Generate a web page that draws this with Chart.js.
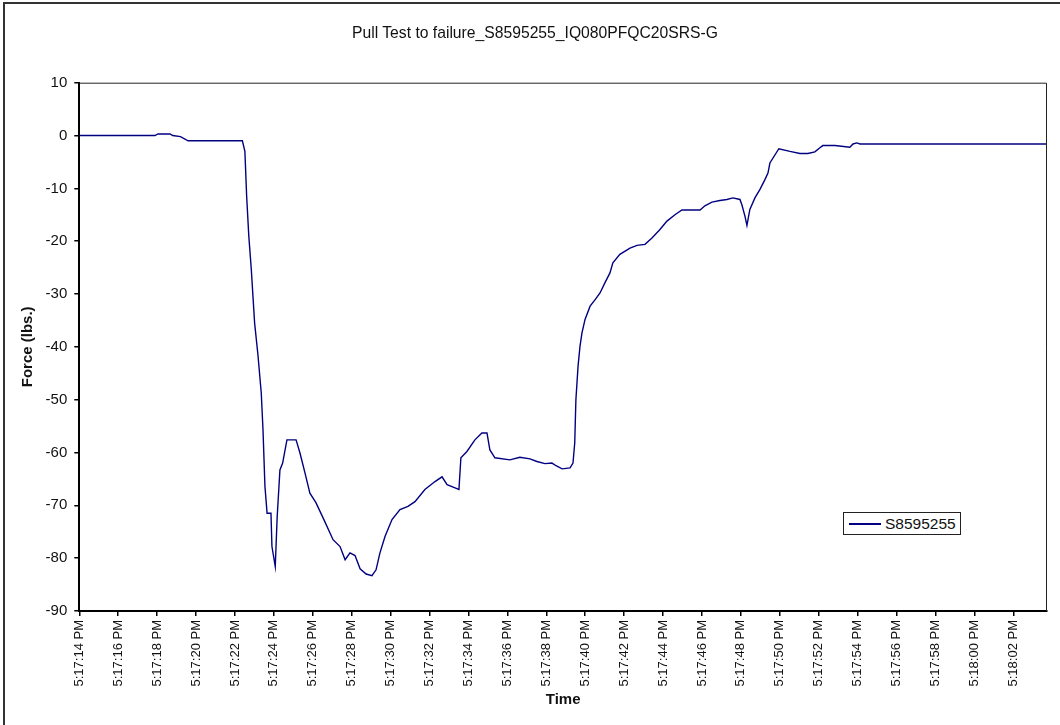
<!DOCTYPE html>
<html>
<head>
<meta charset="utf-8">
<script src="https://cdn.jsdelivr.net/npm/chart.js@4/dist/chart.umd.min.js"></script>
<style>
  html, body { margin: 0; padding: 0; background: #fff; overflow: hidden; }
  #wrap { position: relative; width: 1060px; height: 725px; }
  #frame { position: absolute; left: 3px; top: 2px; width: 2000px; height: 2000px;
    border-left: 2px solid #333; border-top: 2px solid #333; pointer-events: none; }
  #titulo { position: absolute; left: 235px; width: 600px; top: 24px; text-align: center;
    font: 15.7px "Liberation Sans", Arial, sans-serif; color: #111; line-height: 18px; }
  #legend { position: absolute; left: 843px; top: 512px; width: 116px; height: 21px;
    border: 1.5px solid #222; background: #fff; font: 15.5px "Liberation Sans", Arial, sans-serif;
    color: #111; display: flex; align-items: center; }
  #legend .swatch { display: inline-block; width: 32px; height: 0; border-top: 2px solid #000080;
    margin: 0 4px 0 5px; }
</style>
</head>
<body>
<div id="wrap">
  <canvas id="grafica" width="1060" height="725"></canvas>
  <div id="frame"></div>
  <div id="titulo"></div>
  <div id="legend"></div>
</div>
<script>
// seconds after 5:17:14 PM
const segundos = [0, 3.89, 4.04, 4.66, 4.80, 5.20, 5.59, 8.38, 8.51, 8.60,
  8.71, 8.84, 9.01, 9.18, 9.35, 9.44, 9.54, 9.65, 9.85, 9.90,
  10.07, 10.17, 10.31, 10.45, 10.67, 11.14, 11.34, 11.60, 11.85, 12.16,
  12.57, 13.04, 13.40, 13.66, 13.91, 14.17, 14.43, 14.74, 15.04, 15.25,
  15.45, 15.71, 16.07, 16.48, 16.89, 17.25, 17.76, 18.28, 18.64, 18.90,
  19.31, 19.51, 19.61, 19.92, 20.33, 20.69, 20.95, 21.10, 21.36, 22.13,
  22.64, 23.16, 23.52, 23.93, 24.29, 24.50, 24.81, 25.22, 25.37, 25.46,
  25.52, 25.63, 25.73, 25.83, 25.99, 26.25, 26.50, 26.76, 27.01, 27.27,
  27.42, 27.78, 28.30, 28.66, 29.07, 29.43, 29.84, 30.20, 30.61, 30.97,
  31.90, 32.15, 32.51, 32.92, 33.28, 33.59, 33.95, 34.05, 34.21, 34.31,
  34.46, 34.72, 34.98, 35.24, 35.39, 35.49, 35.95, 36.52, 37.03, 37.44,
  37.80, 38.06, 38.21, 38.83, 39.60, 39.76, 39.96, 40.12, 49.73];

// force (lbs.)
const fuerza = [0, 0, 0.3, 0.3, 0, -0.2, -1.0, -1.0, -3.0, -11.5,
  -19.0, -25.4, -35.5, -41.5, -48.7, -55.7, -66.4, -71.5, -71.5, -77.8,
  -81.6, -72.1, -63.3, -62.0, -57.6, -57.6, -60.1, -63.9, -67.7, -69.5,
  -72.7, -76.5, -77.8, -80.3, -79.0, -79.5, -82.0, -83.0, -83.3, -82.2,
  -79.0, -75.9, -72.7, -70.8, -70.2, -69.3, -67.0, -65.5, -64.6, -66.1,
  -66.7, -67.0, -61.0, -59.8, -57.6, -56.3, -56.3, -59.5, -61.0, -61.4,
  -60.9, -61.2, -61.7, -62.1, -62.0, -62.5, -63.1, -62.9, -62.0, -58.2,
  -50.0, -43.7, -39.9, -37.4, -34.8, -32.3, -31.1, -29.8, -27.9, -26.0,
  -24.1, -22.5, -21.3, -20.8, -20.6, -19.4, -17.8, -16.2, -15.0, -14.1,
  -14.1, -13.3, -12.6, -12.3, -12.1, -11.8, -12.1, -13.1, -15.3, -17.0,
  -14.0, -11.8, -10.2, -8.3, -7.1, -5.2, -2.5, -3.0, -3.4, -3.4,
  -3.1, -2.3, -1.9, -1.9, -2.2, -1.6, -1.4, -1.6, -1.6];

const etiquetasTiempo = ['5:17:14 PM', '5:17:16 PM', '5:17:18 PM', '5:17:20 PM', '5:17:22 PM',
  '5:17:24 PM', '5:17:26 PM', '5:17:28 PM', '5:17:30 PM', '5:17:32 PM', '5:17:34 PM',
  '5:17:36 PM', '5:17:38 PM', '5:17:40 PM', '5:17:42 PM', '5:17:44 PM', '5:17:46 PM',
  '5:17:48 PM', '5:17:50 PM', '5:17:52 PM', '5:17:54 PM', '5:17:56 PM', '5:17:58 PM',
  '5:18:00 PM', '5:18:02 PM'];

const serie = 'S8595255';
const titulo = 'Pull Test to failure_S8595255_IQ080PFQC20SRS-G';

const fuente = '"Liberation Sans", Arial, sans-serif';
const navy = '#000080';

document.getElementById('titulo').textContent = titulo;
document.getElementById('legend').innerHTML = `<span class="swatch"></span><span>${serie}</span>`;

// thin box round the plot area (top/right sides)
const marcoPlot = {
  id: 'marcoPlot',
  afterDraw(chart) {
    const { ctx, chartArea: a } = chart;
    ctx.save();
    ctx.strokeStyle = '#222';
    ctx.lineWidth = 1;
    ctx.beginPath();
    ctx.moveTo(a.left, a.top + 0.5);
    ctx.lineTo(a.right - 0.5, a.top + 0.5);
    ctx.lineTo(a.right - 0.5, a.bottom);
    ctx.stroke();
    ctx.restore();
  }
};

new Chart(document.getElementById('grafica'), {
  type: 'line',
  data: {
    datasets: [{
      label: serie,
      data: segundos.map((s, i) => ({ x: s, y: fuerza[i] })),
      borderColor: navy,
      borderWidth: 1.4,
      pointRadius: 0,
      tension: 0,
      fill: false
    }]
  },
  options: {
    responsive: false,
    animation: false,
    layout: { padding: { left: 0, right: 13, top: 82.7, bottom: 0 } },
    plugins: {
      legend: { display: false },
      tooltip: { enabled: false },
      title: { display: false }
    },
    scales: {
      x: {
        type: 'linear',
        min: 0,
        max: 49.73,
        afterFit: (scale) => { scale.height = 114; },
        border: { display: true, color: '#000', width: 2 },
        grid: { drawOnChartArea: false, color: '#000', tickLength: 5, lineWidth: 1.5 },
        ticks: {
          stepSize: 2,
          includeBounds: false,
          autoSkip: false,
          minRotation: 90,
          maxRotation: 90,
          padding: 4,
          color: '#111',
          font: { family: fuente, size: 13 },
          callback: (v) => etiquetasTiempo[Math.round(v / 2)]
        },
        title: {
          display: true,
          text: 'Time',
          color: '#111',
          font: { family: fuente, size: 15, weight: 'bold' },
          padding: { top: 0, bottom: 16 }
        }
      },
      y: {
        min: -90,
        max: 10,
        afterFit: (scale) => { scale.width = 79.3; },
        border: { display: true, color: '#000', width: 2 },
        grid: { drawOnChartArea: false, color: '#000', tickLength: 5, lineWidth: 1.5 },
        ticks: {
          stepSize: 10,
          padding: 7,
          color: '#111',
          font: { family: fuente, size: 15 }
        },
        title: {
          display: true,
          text: 'Force (lbs.)',
          color: '#111',
          font: { family: fuente, size: 15, weight: 'bold' },
          padding: { top: 18.5, bottom: 0 }
        }
      }
    }
  },
  plugins: [marcoPlot]
});
</script>
</body>
</html>
